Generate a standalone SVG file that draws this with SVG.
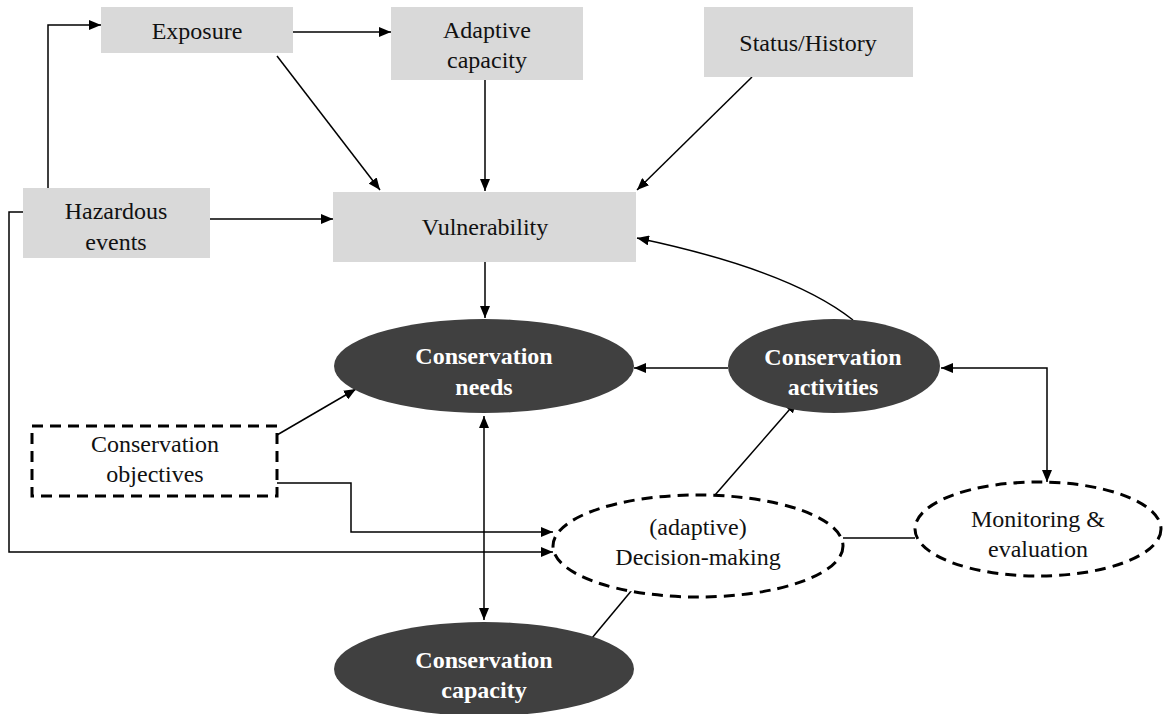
<svg xmlns="http://www.w3.org/2000/svg" width="1163" height="714" viewBox="0 0 1163 714">
  <defs>
    <marker id="arrow" viewBox="0 0 12 10" refX="12" refY="5" markerWidth="12" markerHeight="10" markerUnits="userSpaceOnUse" orient="auto-start-reverse">
      <path d="M0,0 L12,5 L0,10 z" fill="#000"/>
    </marker>
    <style>
      .box { fill: #d9d9d9; stroke: none; }
      .dark { fill: #404040; stroke: none; }
      .dash { fill: #fff; stroke: #000; stroke-width: 3; stroke-dasharray: 11 7; }
      .lbl { font-family: "Liberation Serif", "Times New Roman", serif; font-size: 24px; fill: #111; text-anchor: middle; }
      .blbl { font-family: "Liberation Serif", "Times New Roman", serif; font-size: 24px; font-weight: bold; fill: #fff; text-anchor: middle; }
      .conn path, .conn line { fill: none; stroke: #000; stroke-width: 1.5; }
    </style>
  </defs>
  <rect width="1163" height="714" fill="#fff"/>

  <!-- connectors -->
  <g class="conn">
    <path d="M48,188 V25 H101" marker-end="url(#arrow)"/>
    <line x1="293" y1="32" x2="391" y2="32" marker-end="url(#arrow)"/>
    <line x1="277" y1="56" x2="380" y2="190" marker-end="url(#arrow)"/>
    <line x1="485" y1="80" x2="485" y2="191" marker-end="url(#arrow)"/>
    <line x1="752" y1="77" x2="637" y2="190" marker-end="url(#arrow)"/>
    <line x1="210" y1="219" x2="333" y2="219" marker-end="url(#arrow)"/>
    <path d="M23,212 H9 V552 H553" marker-end="url(#arrow)"/>
    <path d="M277,483 H351 V532 H553" marker-end="url(#arrow)"/>
    <line x1="277" y1="435" x2="356" y2="389" marker-end="url(#arrow)"/>
    <line x1="485" y1="262" x2="485" y2="318" marker-end="url(#arrow)"/>
    <line x1="728" y1="368" x2="634" y2="368" marker-end="url(#arrow)"/>
    <path d="M853,320 Q790,270 637,238" marker-end="url(#arrow)"/>
    <line x1="715" y1="495" x2="797" y2="401" marker-end="url(#arrow)"/>
    <line x1="484" y1="416" x2="484" y2="620" marker-start="url(#arrow)" marker-end="url(#arrow)"/>
    <path d="M941,368 H1047 V482" marker-start="url(#arrow)" marker-end="url(#arrow)"/>
    <line x1="843" y1="538" x2="915" y2="538"/>
    <line x1="637" y1="584" x2="592" y2="638"/>
  </g>

  <g id="exposure">
    <rect class="box" x="101" y="7" width="192" height="46"/>
    <text class="lbl" x="197" y="39">Exposure</text>
  </g>
  <g id="adaptive-capacity">
    <rect class="box" x="391" y="7" width="192" height="73"/>
    <text class="lbl" x="487" y="38">Adaptive</text>
    <text class="lbl" x="487" y="68">capacity</text>
  </g>
  <g id="status-history">
    <rect class="box" x="704" y="7" width="209" height="70"/>
    <text class="lbl" x="808" y="51">Status/History</text>
  </g>
  <g id="hazardous-events">
    <rect class="box" x="23" y="188" width="187" height="70"/>
    <text class="lbl" x="116" y="219">Hazardous</text>
    <text class="lbl" x="116" y="250">events</text>
  </g>
  <g id="vulnerability">
    <rect class="box" x="333" y="192" width="303" height="70"/>
    <text class="lbl" x="485" y="235">Vulnerability</text>
  </g>
  <g id="conservation-needs">
    <ellipse class="dark" cx="484" cy="366" rx="150" ry="47"/>
    <text class="blbl" x="484" y="364">Conservation</text>
    <text class="blbl" x="484" y="395">needs</text>
  </g>
  <g id="conservation-activities">
    <ellipse class="dark" cx="834" cy="366" rx="106" ry="47"/>
    <text class="blbl" x="833" y="365">Conservation</text>
    <text class="blbl" x="833" y="395">activities</text>
  </g>
  <g id="conservation-capacity">
    <ellipse class="dark" cx="484" cy="669" rx="150" ry="47"/>
    <text class="blbl" x="484" y="668">Conservation</text>
    <text class="blbl" x="484" y="698">capacity</text>
  </g>
  <g id="conservation-objectives">
    <rect class="dash" x="32" y="426" width="245" height="70"/>
    <text class="lbl" x="155" y="452">Conservation</text>
    <text class="lbl" x="155" y="482">objectives</text>
  </g>
  <g id="decision-making">
    <ellipse class="dash" cx="698" cy="546" rx="145" ry="51"/>
    <text class="lbl" x="698" y="535">(adaptive)</text>
    <text class="lbl" x="698" y="565">Decision-making</text>
  </g>
  <g id="monitoring-evaluation">
    <ellipse class="dash" cx="1038" cy="529" rx="123" ry="47"/>
    <text class="lbl" x="1038" y="527">Monitoring &amp;</text>
    <text class="lbl" x="1038" y="557">evaluation</text>
  </g>
</svg>
